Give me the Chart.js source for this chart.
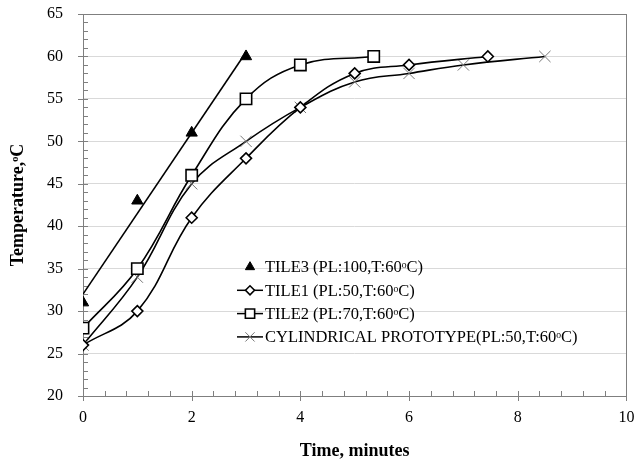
<!DOCTYPE html>
<html>
<head>
<meta charset="utf-8">
<script src="https://cdn.jsdelivr.net/npm/chart.js@4.4.1/dist/chart.umd.min.js"></script>
<style>
  body { margin: 0; background: #fff; }
  #wrap { width: 636px; height: 462px; }
</style>
</head>
<body>
<div id="wrap"><canvas id="tempChart"></canvas></div>
<script>
// readings (time in minutes, temperature in C)
const tile3X = [0, 1, 2, 3]
const tile3Y = [31, 43, 51, 60]
const tile1X = [0, 1, 2, 3, 4, 5, 6, 7.45]
const tile1Y = [26, 30, 41, 48, 54, 58, 59, 60]
const tile2X = [0, 1, 2, 3, 4, 5.35]
const tile2Y = [28, 35, 46, 55, 59, 60]
const cylX = [0, 1, 2, 3, 4, 5, 6, 7, 8.5]
const cylY = [26, 34, 45, 50, 54, 57, 58, 59, 60]

const seriesNames = [
    'TILE3 (PL:100,T:60ᵒC)',
    'TILE1 (PL:50,T:60ᵒC)',
    'TILE2 (PL:70,T:60ᵒC)',
    'CYLINDRICAL PROTOTYPE(PL:50,T:60ᵒC)'
]
const xMin = 0, xMax = 10, xStep = 2, xMinor = 0.4
const yMin = 20, yMax = 65, yStep = 5, yMinor = 1

const serif = '"Liberation Serif", "Times New Roman", serif'

function pts(xs, ys) {
    return xs.map((x, i) => ({x: x, y: ys[i]}))
}

// linear trendline through the TILE3 points
function trend(xs, ys) {
    let n = xs.length
    let mx = xs.reduce((a, b) => a + b, 0) / n
    let my = ys.reduce((a, b) => a + b, 0) / n
    let sxy = 0, sxx = 0
    xs.forEach((x, i) => { sxy += (x - mx) * (ys[i] - my); sxx += (x - mx) * (x - mx) })
    let k = sxy / sxx
    let b = my - k * mx
    let x0 = Math.min(...xs), x1 = Math.max(...xs)
    return [{x: x0, y: b + k * x0}, {x: x1, y: b + k * x1}]
}

// ticks, box and in-plot legend
const framePlugin = {
    id: 'frame',
    beforeDatasetsDraw(chart) {
        let ctx = chart.ctx
        let a = chart.chartArea
        let xs = chart.scales.x, ys = chart.scales.y
        ctx.save()
        ctx.strokeStyle = '#7f7f7f'
        ctx.lineWidth = 1
        ctx.strokeRect(Math.round(a.left) + 0.5, Math.round(a.top) + 0.5,
            Math.round(a.right - a.left), Math.round(a.bottom - a.top))
        ctx.beginPath()
        for (let v = xMin; v <= xMax + 1e-6; v += xMinor) {
            let px = Math.round(xs.getPixelForValue(v)) + 0.5
            let major = Math.abs(v / xStep - Math.round(v / xStep)) < 1e-6
            ctx.moveTo(px, a.bottom + (major ? 5 : 0))
            ctx.lineTo(px, a.bottom - 5)
        }
        for (let v = yMin; v <= yMax + 1e-6; v += yMinor) {
            let py = Math.round(ys.getPixelForValue(v)) + 0.5
            let major = v % yStep === 0
            ctx.moveTo(a.left - (major ? 5 : 0), py)
            ctx.lineTo(a.left + 5, py)
        }
        ctx.stroke()
        ctx.restore()
    },
    afterDraw(chart) {
        let ctx = chart.ctx
        let rows = [0, 1, 2, 3]
        let left = 237, top = 267, gap = 23.3
        ctx.save()
        ctx.font = '16.5px ' + serif
        ctx.textBaseline = 'middle'
        rows.forEach(i => {
            let ds = chart.data.datasets[i]
            let y = top + i * gap
            if (ds.legendLine) {
                ctx.strokeStyle = '#000'
                ctx.lineWidth = 1.5
                ctx.beginPath()
                ctx.moveTo(left, y)
                ctx.lineTo(left + 26, y)
                ctx.stroke()
            }
            ctx.fillStyle = ds.pointBackgroundColor
            ctx.strokeStyle = ds.pointBorderColor
            ctx.lineWidth = ds.pointBorderWidth
            // legend markers come out a bit smaller than the plotted ones
            Chart.helpers.drawPoint(ctx, {
                pointStyle: ds.pointStyle, radius: ds.pointRadius * 0.82, rotation: 0,
                borderWidth: ds.pointBorderWidth
            }, left + 13, y)
            ctx.fillStyle = '#000'
            ctx.fillText(seriesNames[i], left + 28, y + 1)
        })
        ctx.restore()
    }
}

let chartobj = document.getElementById('tempChart')
let tempChart = new Chart(chartobj, {
    type: 'scatter',
    data: {
        datasets: [{
            label: seriesNames[0],
            data: pts(tile3X, tile3Y),
            showLine: false,
            pointStyle: 'triangle',
            pointRadius: 6.5,
            pointBackgroundColor: '#000',
            pointBorderColor: '#000',
            pointBorderWidth: 1,
            legendLine: false
        }, {
            label: seriesNames[1],
            data: pts(tile1X, tile1Y),
            showLine: true,
            tension: 0.4,
            borderColor: '#000',
            borderWidth: 1.6,
            pointStyle: 'rectRot',
            pointRadius: 5.5,
            pointBackgroundColor: '#fff',
            pointBorderColor: '#000',
            pointBorderWidth: 1.6,
            legendLine: true
        }, {
            label: seriesNames[2],
            data: pts(tile2X, tile2Y),
            showLine: true,
            tension: 0.4,
            borderColor: '#000',
            borderWidth: 1.6,
            pointStyle: 'rect',
            pointRadius: 8,
            pointBackgroundColor: '#fff',
            pointBorderColor: '#000',
            pointBorderWidth: 1.6,
            legendLine: true
        }, {
            label: seriesNames[3],
            data: pts(cylX, cylY),
            showLine: true,
            tension: 0.4,
            borderColor: '#000',
            borderWidth: 1.6,
            pointStyle: 'crossRot',
            pointRadius: 8,
            pointBackgroundColor: '#fff',
            pointBorderColor: '#777',
            pointBorderWidth: 1,
            legendLine: true
        }, {
            label: 'trend',
            data: trend(tile3X, tile3Y),
            showLine: true,
            tension: 0,
            borderColor: '#000',
            borderWidth: 1.6,
            pointRadius: 0
        }]
    },
    options: {
        responsive: true,
        maintainAspectRatio: false,
        animation: false,
        layout: {padding: {top: 14, right: 9, left: 0, bottom: 0}},
        plugins: {
            legend: {display: false},
            tooltip: {enabled: false}
        },
        scales: {
            x: {
                type: 'linear',
                min: xMin, max: xMax,
                afterFit: s => { s.height = 66; s.paddingLeft = 0; s.paddingRight = 0 },
                ticks: {stepSize: xStep, color: '#000', padding: 12, font: {family: serif, size: 16}},
                grid: {display: false, drawTicks: false},
                border: {display: false},
                title: {display: true, text: 'Time, minutes', color: '#000',
                    font: {family: serif, size: 18, weight: 'bold'}, padding: {top: 0, bottom: 0}}
            },
            y: {
                min: yMin, max: yMax,
                afterFit: s => { s.width = 83; s.paddingTop = 0; s.paddingBottom = 0 },
                ticks: {stepSize: yStep, color: '#000', padding: 20, font: {family: serif, size: 16}},
                grid: {color: '#d9d9d9', drawTicks: false},
                border: {display: false},
                title: {display: true, text: 'Temperature,ᵒC', color: '#000',
                    font: {family: serif, size: 18, weight: 'bold'}, padding: {top: 8, bottom: 0}}
            }
        }
    },
    plugins: [framePlugin]
});
</script>
</body>
</html>
